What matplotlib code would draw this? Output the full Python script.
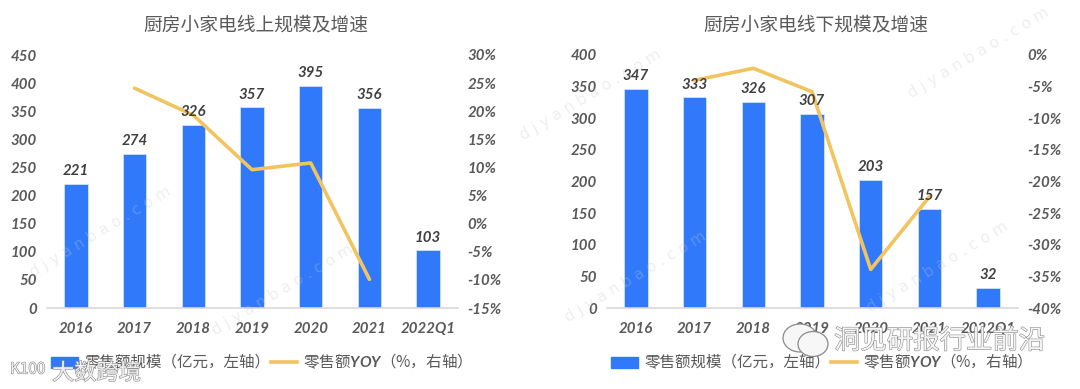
import matplotlib
matplotlib.use("Agg")
import matplotlib.pyplot as plt
import matplotlib.patheffects as pe
from matplotlib.lines import Line2D
from matplotlib.patches import Patch, Ellipse

plt.rcParams['font.family'] = ['Noto Sans CJK SC', 'DejaVu Sans']
plt.rcParams['mathtext.fontset'] = 'custom'
plt.rcParams['mathtext.bfit'] = 'Lato:italic:bold'

years = ["2016", "2017", "2018", "2019", "2020", "2021", "2022Q1"]

online_sales = [221, 274, 326, 357, 395, 356, 103]
online_yoy = [None, 24.1, 19.3, 9.6, 10.8, -9.9, None]
offline_sales = [347, 333, 326, 307, 203, 157, 32]
offline_yoy = [None, -4.0, -2.1, -5.8, -33.9, -22.4, None]

online_left = [0, 50, 100, 150, 200, 250, 300, 350, 400, 450]
online_right = [-15, -10, -5, 0, 5, 10, 15, 20, 25, 30]
offline_left = [0, 50, 100, 150, 200, 250, 300, 350, 400]
offline_right = [-40, -35, -30, -25, -20, -15, -10, -5, 0]

BLUE = "#3079fb"
YELLOW = "#f2c45f"
GREY = "#595959"
W, H = 1080, 389
TICK = dict(family="Lato", style="italic", weight="bold", size=10.8, color=GREY)


def draw_panel(x0, title, sales, yoy, left_ticks, right_ticks):
    ax = fig.add_axes([x0 / W, 1 - 308 / H, 411 / W, 253 / H])
    pos = list(range(len(years)))
    ax.bar(pos, sales, width=0.4, color=BLUE, edgecolor="#dce8fb", linewidth=0.5)
    ax.set_xlim(-0.5, 6.5)
    ax.set_ylim(left_ticks[0], left_ticks[-1])
    ax.set_xticks(pos)
    ax.set_xticklabels(years)
    ax.set_yticks(left_ticks)
    ax.tick_params(length=0)
    ax.tick_params(axis="x", pad=10)
    ax.tick_params(axis="y", pad=7)
    for lab in ax.get_xticklabels() + ax.get_yticklabels():
        lab.set(**TICK)
    for s in ["top", "left", "right"]:
        ax.spines[s].set_visible(False)
    ax.spines["bottom"].set_color("#d9d9d9")
    ax.spines["bottom"].set_linewidth(1.2)

    ax2 = ax.twinx()
    ax2.set_ylim(right_ticks[0], right_ticks[-1])
    ax2.set_yticks(right_ticks)
    ax2.set_yticklabels([f"{t}%" for t in right_ticks])
    ax2.tick_params(length=0, pad=7)
    for lab in ax2.get_yticklabels():
        lab.set(**TICK)
    for s in ax2.spines.values():
        s.set_visible(False)
    xs = [i for i, v in enumerate(yoy) if v is not None]
    ys = [v for v in yoy if v is not None]
    ax2.plot(xs, ys, color=YELLOW, linewidth=2.6, solid_capstyle="round", zorder=3)

    # labels go on the twin axis so they sit above the line
    for i, v in enumerate(sales):
        ax2.annotate(str(v), (i, right_ticks[0] + (right_ticks[-1] - right_ticks[0]) * v / left_ticks[-1]),
                     xytext=(0, 4), textcoords="offset points",
                     ha="center", va="bottom", family="Lato", style="italic",
                     weight="bold", size=10.8, color="#404040", zorder=6)

    fig.text((x0 + 209.5) / W, 1 - 25 / H, title, ha="center", va="center",
             size=13.5, color=GREY)

    handles = [Patch(color=BLUE), Line2D([], [], color=YELLOW, linewidth=2.6)]
    labels = ["零售额规模（亿元，左轴）", r"零售额$\mathbfit{YOY}$（%，右轴）"]
    fig.legend(handles, labels, loc="center", ncol=2, frameon=False, fontsize=11.2,
               bbox_to_anchor=((x0 + 211) / W, 1 - 362 / H), labelcolor=GREY,
               handlelength=1.7, handleheight=0.7, columnspacing=0.05, handletextpad=0.4)


fig = plt.figure(figsize=(W / 100, H / 100), dpi=100)
draw_panel(46.5, "厨房小家电线上规模及增速", online_sales, online_yoy, online_left, online_right)
draw_panel(606.5, "厨房小家电线下规模及增速", offline_sales, offline_yoy, offline_left, offline_right)

# faint diagonal watermarks
for x, y in [(100, 232), (282, 290), (978, 53), (635, 277), (590, 95), (937, 267)]:
    fig.text(x / W, 1 - y / H, "d j y a n b a o . c o m", rotation=31, ha="center", va="center",
             size=11, color="#c8c8c8", alpha=0.3, family="DejaVu Sans", zorder=10)

# overlay stamps from the source image
stamp = [pe.withStroke(linewidth=0.8, foreground="#8a8a8a")]
for cx, cy, w, h in [(800, 338, 34, 28), (813, 344, 30, 25)]:
    fig.add_artist(Ellipse((cx / W, 1 - cy / H), w / W, h / H, transform=fig.transFigure,
                           facecolor="#f7f7f7", edgecolor="#8a8a8a", linewidth=0.9, zorder=11))
fig.text(1045 / W, 1 - 341 / H, "洞见研报行业前沿", ha="right", va="center", size=19,
         color="#f4f4f4", zorder=11, path_effects=stamp)
fig.text(10 / W, 1 - 369 / H, "K100", ha="left", va="center", size=11,
         color="#f0f0f0", zorder=11, path_effects=stamp)
fig.text(52 / W, 1 - 373 / H, "大数跨境", ha="left", va="center", size=16,
         color="#f0f0f0", zorder=11, path_effects=stamp)

fig.savefig("out.png", dpi=100)
